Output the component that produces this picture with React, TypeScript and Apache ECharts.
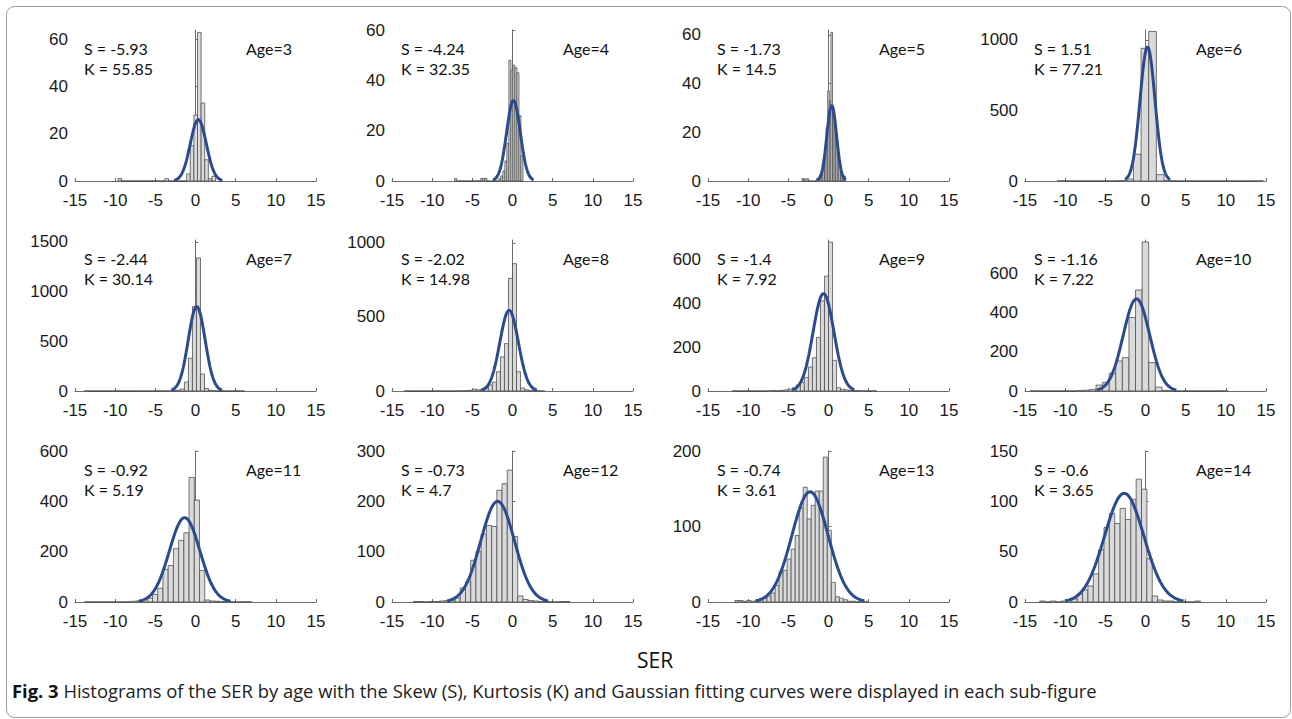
import React, { useEffect, useRef } from "react";
import * as echarts from "echarts";

// ---------- data ----------
const ageLabels = ["Age=3", "Age=4", "Age=5", "Age=6", "Age=7", "Age=8", "Age=9", "Age=10", "Age=11", "Age=12", "Age=13", "Age=14"];
const skewLabels = ["S = -5.93", "S = -4.24", "S = -1.73", "S = 1.51", "S = -2.44", "S = -2.02", "S = -1.4", "S = -1.16", "S = -0.92", "S = -0.73", "S = -0.74", "S = -0.6"];
const kurtLabels = ["K = 55.85", "K = 32.35", "K = 14.5", "K = 77.21", "K = 30.14", "K = 14.98", "K = 7.92", "K = 7.22", "K = 5.19", "K = 4.7", "K = 3.61", "K = 3.65"];

const xMin = -15;
const xMax = 15;
const xInterval = 5;
const yMaxes = [64, 60, 62, 1070, 1520, 1020, 690, 770, 600, 300, 200, 150];
const yIntervals = [20, 20, 20, 500, 500, 500, 200, 200, 200, 100, 100, 50];

// histogram bins: first edge, bin width, counts
const binStarts = [-9.65, -7.2, -3.3, -11.0, -13.88, -13.5, -12.0, -14.36, -13.8, -12.35, -11.65, -13.17];
const binWidths = [0.45, 0.25, 0.2, 0.95, 0.5, 0.5, 0.5, 0.82, 0.65, 0.65, 0.5, 0.667];

const countsAge3 = [1, 0, 0, 0, 0, 0, 0, 0, 0, 0, 0, 0, 0, 1, 0, 0, 0, 0, 0, 3, 15, 28, 63, 33, 9, 1, 2];
const countsAge4 = [1, 0, 0, 0, 0, 0, 0, 0, 0, 0, 0, 0, 0, 1, 1, 1, 0, 0, 0, 0, 0, 0, 1, 2, 4, 8, 15, 48, 44, 46, 45, 43, 26, 10];
const countsAge5 = [1, 1, 0, 1, 0, 0, 0, 0, 0, 1, 1, 2, 4, 8, 14, 22, 37, 33, 61, 28, 25, 18, 12, 8, 4, 2, 2];
const countsAge6 = [1, 0, 0, 0, 0, 0, 0, 0, 3, 14, 190, 940, 1060, 45, 5, 0, 0, 0, 0, 0, 0, 0, 0, 0, 0, 0, 1];
const countsAge7 = [1, 0, 0, 0, 0, 0, 0, 0, 0, 0, 0, 0, 0, 0, 0, 0, 0, 0, 0, 0, 1, 2, 4, 8, 20, 90, 330, 850, 1340, 170, 25, 8, 3, 0, 0, 0, 0, 0, 0, 1];
const countsAge8 = [1, 0, 0, 0, 0, 0, 0, 0, 0, 0, 0, 0, 0, 1, 2, 3, 5, 12, 8, 12, 20, 40, 60, 130, 230, 320, 760, 860, 130, 20, 8, 4, 3, 2, 1];
const countsAge9 = [1, 0, 0, 0, 0, 0, 0, 0, 0, 1, 2, 1, 3, 5, 8, 15, 28, 40, 62, 110, 152, 245, 412, 525, 680, 140, 15, 8, 5, 3, 2, 2, 1, 0, 0, 1];
const countsAge10 = [1, 0, 0, 0, 0, 0, 0, 2, 4, 8, 30, 44, 91, 153, 170, 375, 515, 760, 145, 20, 3, 1, 0, 0, 0, 0, 0, 0, 0, 1];
const countsAge11 = [1, 0, 0, 0, 0, 0, 0, 0, 1, 3, 5, 10, 15, 30, 55, 130, 145, 212, 245, 275, 495, 405, 125, 8, 4, 3, 2, 2, 0, 0, 1, 1];
const countsAge12 = [1, 1, 0, 1, 1, 2, 3, 4, 8, 28, 40, 83, 100, 135, 152, 150, 222, 235, 262, 130, 12, 5, 3, 2, 1, 1, 0, 0, 1, 1];
const countsAge13 = [2, 2, 1, 2, 1, 2, 3, 5, 8, 12, 22, 40, 42, 57, 70, 88, 125, 152, 110, 128, 147, 147, 192, 95, 26, 7, 5, 3, 1, 1, 0, 1, 1];
const countsAge14 = [1, 0, 1, 0, 1, 2, 3, 8, 12, 16, 28, 52, 74, 88, 78, 93, 82, 102, 122, 112, 43, 6, 2, 1, 1, 0, 1, 0, 0, 1];

const allCounts = [countsAge3, countsAge4, countsAge5, countsAge6, countsAge7, countsAge8, countsAge9, countsAge10, countsAge11, countsAge12, countsAge13, countsAge14];

// Gaussian fit parameters
const fitMeans = [0.35, 0.12, 0.4, 0.25, 0.15, -0.42, -0.62, -1.12, -1.35, -1.85, -2.3, -2.65];
const fitSigmas = [1.0, 0.85, 0.6, 0.93, 1.05, 1.15, 1.3, 1.65, 1.9, 2.1, 2.25, 2.45];
const fitPeaks = [26, 32, 31, 950, 850, 545, 445, 470, 335, 200, 146, 108];

const xAxisTitle = "SER";
const captionBold = "Fig. 3";
const captionText = " Histograms of the SER by age with the Skew (S), Kurtosis (K) and Gaussian fitting curves were displayed in each sub-figure";

// ---------- layout ----------
const colLefts = [75, 392, 708, 1025];
const rowTops = [30, 240, 451];
const gridW = 241;
const gridH = 151;

const axisFont = "'Liberation Sans', Arial, sans-serif";
const annoFont = "Lato, 'Liberation Sans', sans-serif";
const capFont = "'Open Sans', 'Noto Sans', sans-serif";

function buildOption() {
  const grid: any[] = [];
  const xAxis: any[] = [];
  const yAxis: any[] = [];
  const series: any[] = [];
  const graphics: any[] = [];

  for (let i = 0; i < 12; i++) {
    const col = i % 4;
    const row = Math.floor(i / 4);
    const left = colLefts[col];
    const top = rowTops[row];
    grid.push({ left, top, width: gridW, height: gridH, containLabel: false });
    xAxis.push({
      type: "value",
      gridIndex: i,
      min: xMin,
      max: xMax,
      interval: xInterval,
      axisLine: { show: true, onZero: false, lineStyle: { color: "#6b6b6b", width: 1 } },
      axisTick: { show: true, inside: true, length: 3, lineStyle: { color: "#6b6b6b" } },
      axisLabel: { color: "#1a1a1a", fontSize: 17, fontFamily: axisFont, margin: 11, formatter: (v: number) => String(v) },
      splitLine: { show: false },
    });
    const yMax = yMaxes[i];
    const yInt = yIntervals[i];
    yAxis.push({
      type: "value",
      gridIndex: i,
      min: 0,
      max: yMax,
      interval: yInt,
      axisLine: { show: true, lineStyle: { color: "#6b6b6b", width: 1 } },
      axisTick: { show: true, inside: true, length: 3, lineStyle: { color: "#6b6b6b" } },
      axisLabel: {
        color: "#1a1a1a",
        fontSize: 17,
        fontFamily: axisFont,
        margin: 7,
        showMaxLabel: yMax % yInt === 0,
        formatter: (v: number) => String(v),
      },
      splitLine: { show: false },
    });

    const counts = allCounts[i];
    const start = binStarts[i];
    const w = binWidths[i];
    const bins = counts.map((c, k) => [start + k * w, start + (k + 1) * w, c]);
    series.push({
      type: "custom",
      xAxisIndex: i,
      yAxisIndex: i,
      encode: { x: [0, 1], y: 2 },
      data: bins,
      z: 2,
      silent: true,
      renderItem: (params: any, api: any) => {
        const x0 = api.value(0);
        const x1 = api.value(1);
        const c = api.value(2);
        const p0 = api.coord([x0, 0]);
        const p1 = api.coord([x1, c]);
        if (c === 0) {
          return {
            type: "line",
            shape: { x1: p0[0], y1: p0[1], x2: p1[0], y2: p0[1] },
            style: { stroke: "#3a3a3a", lineWidth: 1.2 },
          };
        }
        return {
          type: "rect",
          shape: { x: p0[0], y: p1[1], width: p1[0] - p0[0], height: p0[1] - p1[1] },
          style: { fill: "#dadada", stroke: "#505050", lineWidth: 0.8 },
        };
      },
    });

    const mu = fitMeans[i];
    const sd = fitSigmas[i];
    const pk = fitPeaks[i];
    const pts: number[][] = [];
    const n = 120;
    for (let k = 0; k <= n; k++) {
      const x = mu - 3 * sd + (6 * sd * k) / n;
      const z = (x - mu) / sd;
      pts.push([x, pk * Math.exp(-0.5 * z * z)]);
    }
    series.push({
      type: "line",
      xAxisIndex: i,
      yAxisIndex: i,
      data: pts,
      showSymbol: false,
      symbol: "none",
      z: 5,
      silent: true,
      lineStyle: { color: "#2c4b8e", width: 3 },
    });

    graphics.push({
      type: "text",
      left: left + 9,
      top: top + 10,
      style: { text: skewLabels[i], font: `16px ${annoFont}`, fill: "#111" },
    });
    graphics.push({
      type: "text",
      left: left + 9,
      top: top + 30,
      style: { text: kurtLabels[i], font: `16px ${annoFont}`, fill: "#111" },
    });
    graphics.push({
      type: "text",
      left: left + 171,
      top: top + 10,
      style: { text: ageLabels[i], font: `16px ${annoFont}`, fill: "#111" },
    });
  }

  graphics.push({
    type: "rect",
    left: 4,
    top: 4,
    shape: { x: 0, y: 0, width: 1284, height: 711, r: 8 },
    style: { fill: "none", stroke: "#9a9a9a", lineWidth: 1 },
    silent: true,
  });
  graphics.push({
    type: "text",
    left: 637,
    top: 649,
    style: { text: xAxisTitle, font: `21px ${capFont}`, lineHeight: 21, fill: "#111" },
  });
  graphics.push({
    type: "text",
    left: 12,
    top: 681,
    style: {
      text: `{b|${captionBold}}{r|${captionText}}`,
      rich: {
        b: { font: `bold 18.4px ${capFont}`, fill: "#111", lineHeight: 20 },
        r: { font: `18.4px ${capFont}`, fill: "#222", lineHeight: 20 },
      },
    },
  });

  return {
    animation: false,
    backgroundColor: "#ffffff",
    grid,
    xAxis,
    yAxis,
    series,
    graphic: graphics,
  };
}

export default function App() {
  const ref = useRef<HTMLDivElement>(null);
  useEffect(() => {
    if (!ref.current) return;
    const chart = echarts.init(ref.current, undefined, { renderer: "svg" });
    chart.setOption(buildOption() as any);
    return () => chart.dispose();
  }, []);
  return (
    <div
      ref={ref}
      style={{ position: "absolute", left: 0, top: 0, width: 1292, height: 719 }}
    />
  );
}
